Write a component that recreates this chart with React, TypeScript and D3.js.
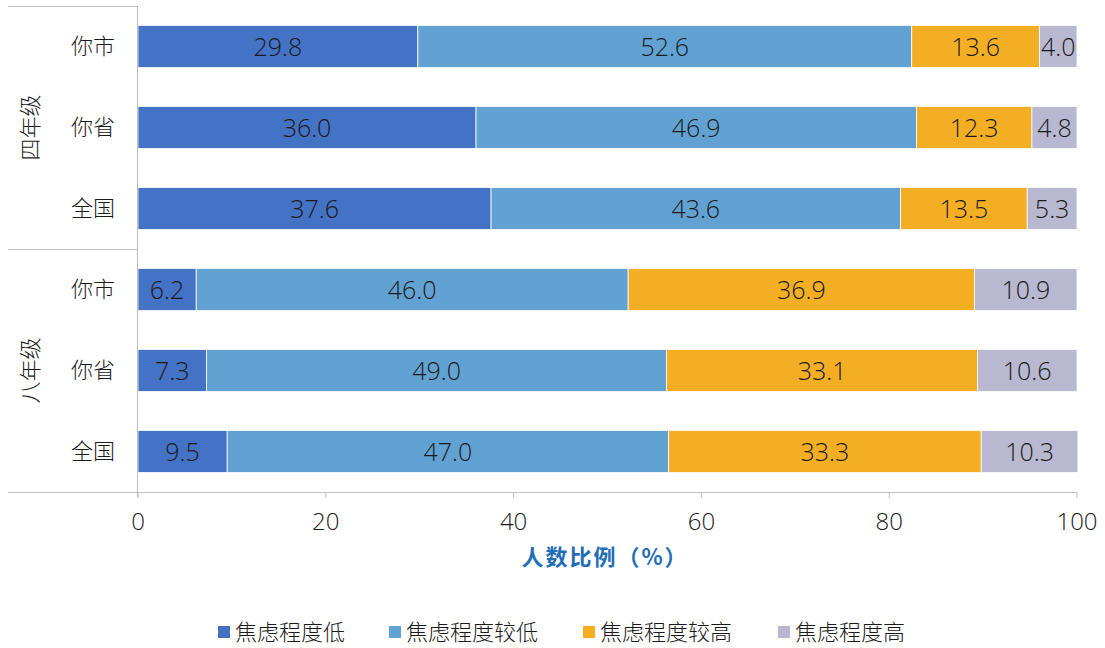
import React from "react";
import * as d3 from "d3";

const categories = ["你市", "你省", "全国", "你市", "你省", "全国"];
const groups = ["四年级", "八年级"];
const seriesNames = ["焦虑程度低", "焦虑程度较低", "焦虑程度较高", "焦虑程度高"];
const low = [29.8, 36.0, 37.6, 6.2, 7.3, 9.5];
const lowish = [52.6, 46.9, 43.6, 46.0, 49.0, 47.0];
const highish = [13.6, 12.3, 13.5, 36.9, 33.1, 33.3];
const high = [4.0, 4.8, 5.3, 10.9, 10.6, 10.3];
const xTicks = [0, 20, 40, 60, 80, 100];
const colors = ["#4472C4", "#62A2D3", "#F4AE24", "#B8B8D0"];

const W = 1105;
const H = 648;
const left = 138;
const right = 1077;
const top = 6;
const bottom = 492;
const cjk = "'Noto Sans CJK SC', 'Noto Sans', sans-serif";
const num = "'Open Sans', 'Liberation Sans', sans-serif";

export default function App() {
  const x = d3.scaleLinear().domain([0, 100]).range([left, right]);
  const y = d3
    .scaleBand<number>()
    .domain(d3.range(categories.length))
    .range([top, bottom])
    .paddingInner(0.48)
    .paddingOuter(0.24);
  const rows = categories.map((c, i) => ({ c, i, vals: [low[i], lowish[i], highish[i], high[i]] }));
  const stack = d3.stack<any>().keys(["0", "1", "2", "3"]).value((d: any, k) => d.vals[+k]);
  const stacked = stack(rows as any);
  const groupBand = (bottom - top) / 2;
  const legendX = [218, 389, 583, 778];

  return (
    <svg width={W} height={H} style={{ position: "absolute", left: 0, top: 0, fontFamily: cjk }}>
      <rect width={W} height={H} fill="#fff" />
      {stacked.map((s, si) =>
        s.map((d, i) => (
          <g key={`${si}-${i}`}>
            <rect
              x={x(d[0])}
              y={y(i)!}
              width={x(d[1]) - x(d[0])}
              height={y.bandwidth()}
              fill={colors[si]}
              stroke="#fff"
              strokeWidth={0.8}
            />
            <text
              x={(x(d[0]) + x(d[1])) / 2}
              y={y(i)! + y.bandwidth() / 2 + 9}
              textAnchor="middle"
              fontFamily={num}
              fontSize={25}
              fontWeight={300}
              fill="#1a1a1a"
            >
              {(d[1] - d[0]).toFixed(1)}
            </text>
          </g>
        ))
      )}
      {/* axes */}
      <line x1={left - 0.5} x2={left - 0.5} y1={top} y2={bottom + 6} stroke="#bfbfbf" />
      <line x1={8} x2={right} y1={bottom + 0.5} y2={bottom + 0.5} stroke="#bfbfbf" />
      <line x1={8} x2={left} y1={top + 0.5} y2={top + 0.5} stroke="#bfbfbf" />
      <line x1={8} x2={left} y1={top + groupBand + 0.5} y2={top + groupBand + 0.5} stroke="#bfbfbf" />
      {xTicks.map((t) => (
        <g key={t}>
          <line x1={x(t)} x2={x(t)} y1={bottom} y2={bottom + 6} stroke="#bfbfbf" />
          <text
            x={x(t)}
            y={bottom + 38}
            textAnchor="middle"
            fontFamily={num}
            fontSize={24}
            fontWeight={300}
            fill="#1a1a1a"
          >
            {t}
          </text>
        </g>
      ))}
      {categories.map((c, i) => (
        <text
          key={i}
          x={115}
          y={y(i)! + y.bandwidth() / 2}
          dy="0.36em"
          textAnchor="end"
          fontSize={22}
          fontWeight={300}
          fill="#1a1a1a"
        >
          {c}
        </text>
      ))}
      {groups.map((g, gi) => {
        const cy = top + groupBand * gi + groupBand / 2;
        return (
          <text
            key={g}
            transform={`translate(30,${cy}) rotate(-90)`}
            dy="0.36em"
            textAnchor="middle"
            fontSize={22}
            fontWeight={300}
            fill="#1a1a1a"
          >
            {g}
          </text>
        );
      })}
      <text x={605} y={565} textAnchor="middle" fontSize={22} fontWeight={700} letterSpacing={2} fill="#1F6EB7">
        人数比例（%）
      </text>
      {seriesNames.map((n, i) => (
        <g key={n}>
          <rect x={legendX[i]} y={626} width={12} height={12} fill={colors[i]} />
          <text x={legendX[i] + 17} y={632} dy="0.36em" fontSize={22} fontWeight={300} fill="#1a1a1a">
            {n}
          </text>
        </g>
      ))}
    </svg>
  );
}
